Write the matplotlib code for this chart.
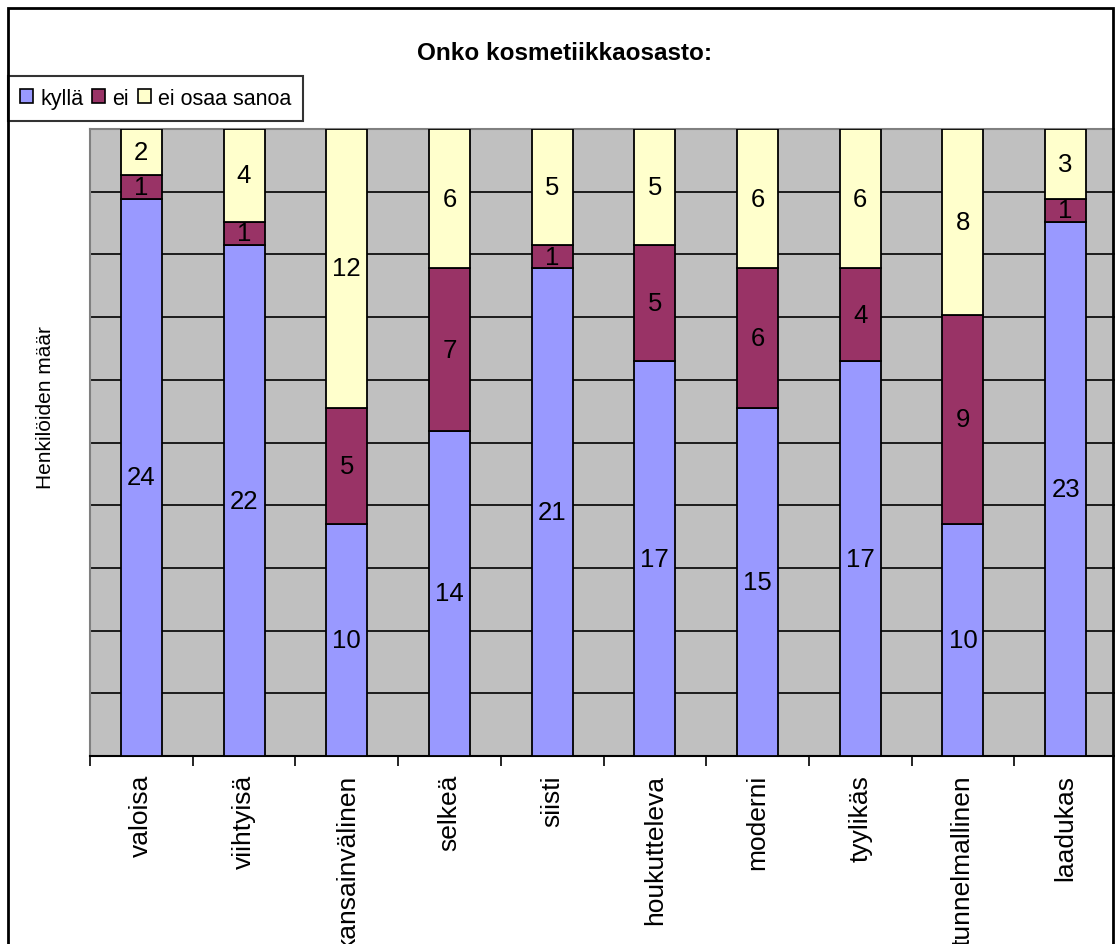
import numpy as np
import matplotlib
matplotlib.use("Agg")
import matplotlib.pyplot as plt
from matplotlib.patches import Rectangle

plt.rcParams['font.family'] = ['Liberation Sans', 'DejaVu Sans']

# Vastaukset: "Onko kosmetiikkaosasto ...?"
categories = ["valoisa", "viihtyisä", "kansainvälinen", "selkeä", "siisti",
              "houkutteleva", "moderni", "tyylikäs", "tunnelmallinen", "laadukas"]
kylla = [24, 22, 10, 14, 21, 17, 15, 17, 10, 23]
ei = [1, 1, 5, 7, 1, 5, 6, 4, 9, 1]
ei_osaa = [2, 4, 12, 6, 5, 5, 6, 6, 8, 3]

series_names = ["kyllä", "ei", "ei osaa sanoa"]
series_colors = ["#9999FF", "#993366", "#FFFFCC"]

W, H = 1115, 945
fig = plt.figure(figsize=(W / 100, H / 100), dpi=100)

# plot area in pixels: left 90, top 130, bottom 757, category step ~102.7
left, top, bottom, right = 90, 130, 757, 1117
ax = fig.add_axes([left / W, 1 - bottom / H, (right - left) / W, (bottom - top) / H])
ax.set_facecolor("#C0C0C0")

counts = np.array([kylla, ei, ei_osaa], dtype=float)
totals = counts.sum(axis=0)
shares = counts / totals * 100  # 100 % pinottu

x = np.arange(len(categories))
base = np.zeros(len(categories))
handles = []
for name, color, share, cnt in zip(series_names, series_colors, shares, counts):
    bars = ax.bar(x, share, bottom=base, width=0.4, color=color,
                  edgecolor="black", linewidth=1.3, label=name, zorder=3)
    ax.bar_label(bars, labels=[str(int(c)) for c in cnt], label_type="center",
                 fontsize=18.5, color="black")
    handles.append(bars)
    base += share

ax.set_xlim(-0.5, len(categories) - 0.5)
ax.set_ylim(0, 100)

# horizontal grid every 10 %
ax.set_yticks(np.arange(0, 101, 10))
ax.set_yticklabels([])
ax.tick_params(axis="y", length=0)
ax.yaxis.grid(True, color="black", linewidth=1.2)
ax.set_axisbelow(True)

# tick marks between categories, labels at the centres
ax.set_xticks(np.arange(-0.5, len(categories), 1.0))
ax.set_xticklabels([])
ax.tick_params(axis="x", which="major", length=7, width=1.2, direction="out")
ax.set_xticks(x, minor=True)
ax.set_xticklabels(categories, minor=True, rotation=90, fontsize=19, va="top")
ax.tick_params(axis="x", which="minor", length=0, pad=13)

for side in ("left", "top"):
    ax.spines[side].set_color("#808080")
    ax.spines[side].set_linewidth(1.5)
ax.spines["right"].set_visible(False)
ax.spines["bottom"].set_color("black")
ax.spines["bottom"].set_linewidth(1.5)

fig.text(565 / W, 1 - 53 / H, "Onko kosmetiikkaosasto:", fontsize=17.5,
         fontweight="bold", ha="center", va="center")
fig.text(46 / W, 1 - 408 / H, "Henkilöiden määr", fontsize=15, rotation=90,
         ha="center", va="center")

# chart frame
fig.patches.append(Rectangle((8 / W, -0.1), (1113 - 8) / W, 1 - 9 / H + 0.1,
                             transform=fig.transFigure, fill=False,
                             edgecolor="black", linewidth=2, zorder=10))

leg = fig.legend(handles=handles, labels=series_names, loc="upper left",
                 bbox_to_anchor=(8 / W, 1 - 77 / H), ncol=3, fontsize=15.5,
                 frameon=True, fancybox=False, handlelength=0.6,
                 handleheight=0.6, handletextpad=0.35, columnspacing=0.4,
                 borderpad=0.55, borderaxespad=0)
leg.get_frame().set_edgecolor("black")
leg.get_frame().set_linewidth(1.5)
for h in leg.legend_handles:
    h.set_edgecolor("black")
    h.set_linewidth(1.2)

fig.savefig("out.png", dpi=100)
